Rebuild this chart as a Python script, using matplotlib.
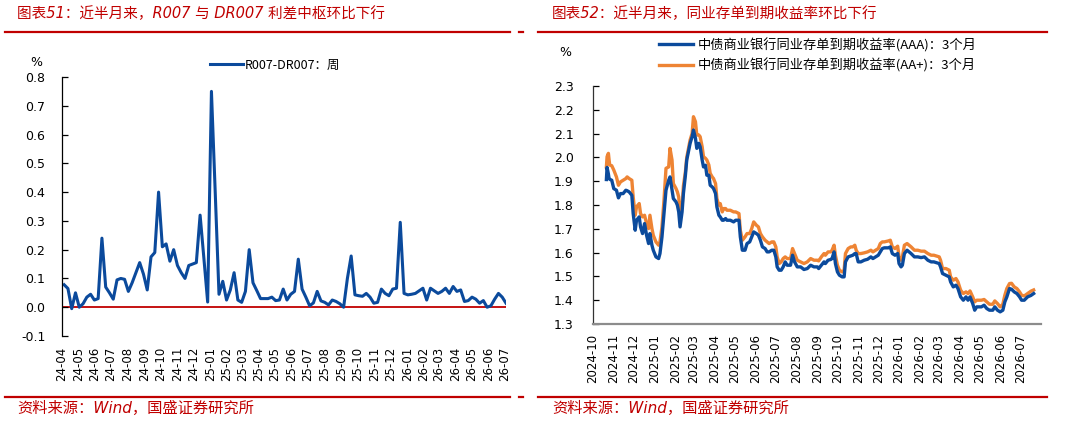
import matplotlib
matplotlib.use("Agg")
import matplotlib.pyplot as plt
from matplotlib.lines import Line2D
from matplotlib.font_manager import FontProperties
import pandas as pd

# ---------------- data ----------------
title_left = "图表51：近半月来，R007 与 DR007 利差中枢环比下行"
title_right = "图表52：近半月来，同业存单到期收益率环比下行"
source_text = "资料来源：Wind，国盛证券研究所"
legend_left = "R007-DR007：周"
legend_aaa = "中债商业银行同业存单到期收益率(AAA)：3个月"
legend_aap = "中债商业银行同业存单到期收益率(AA+)：3个月"

spread_start = "2024-04-05"   # weekly observations (Fridays)
spread = [0.078, 0.065, -0.005, 0.05, 0.0, 0.012, 0.035, 0.045, 0.025, 0.03,
          0.24, 0.07, 0.05, 0.028, 0.095, 0.10, 0.097, 0.055, 0.085, 0.12,
          0.155, 0.115, 0.06, 0.175, 0.19, 0.40, 0.21, 0.22, 0.16, 0.20,
          0.145, 0.12, 0.10, 0.145, 0.15, 0.155, 0.32, 0.17, 0.018, 0.75,
          0.40, 0.045, 0.09, 0.025, 0.06, 0.12, 0.025, 0.017, 0.055, 0.20,
          0.085, 0.058, 0.03, 0.03, 0.03, 0.035, 0.023, 0.025, 0.063, 0.025,
          0.045, 0.055, 0.167, 0.063, 0.035, 0.005, 0.015, 0.055, 0.022, 0.017,
          0.008, 0.025, 0.02, 0.012, 0.0, 0.10, 0.178, 0.043, 0.04, 0.038,
          0.048, 0.035, 0.014, 0.017, 0.063, 0.048, 0.04, 0.063, 0.066, 0.295,
          0.048, 0.043, 0.045, 0.048, 0.057, 0.066, 0.025, 0.066, 0.057, 0.048,
          0.055, 0.066, 0.048, 0.072, 0.055, 0.06, 0.02, 0.023, 0.035, 0.028,
          0.014, 0.023, 0.0, 0.005, 0.028, 0.048, 0.035, 0.014]
spread_ticks = pd.date_range("2024-04-01", "2026-07-01", freq="MS")

cd_dates = [
    "2024-10-21", "2024-10-22", "2024-10-24", "2024-10-25", "2024-10-26", "2024-10-29",
    "2024-11-01", "2024-11-05", "2024-11-08", "2024-11-11", "2024-11-15", "2024-11-19",
    "2024-11-21", "2024-11-24", "2024-11-28", "2024-11-30", "2024-12-03", "2024-12-05",
    "2024-12-09", "2024-12-11", "2024-12-14", "2024-12-17", "2024-12-20", "2024-12-23",
    "2024-12-25", "2024-12-28", "2024-12-30", "2025-01-03", "2025-01-07", "2025-01-09",
    "2025-01-12", "2025-01-15", "2025-01-18", "2025-01-22", "2025-01-24", "2025-01-27",
    "2025-01-29", "2025-02-02", "2025-02-04", "2025-02-06", "2025-02-08", "2025-02-11",
    "2025-02-13", "2025-02-16", "2025-02-18", "2025-02-21", "2025-02-23", "2025-02-26",
    "2025-02-28", "2025-03-03", "2025-03-05", "2025-03-08", "2025-03-10", "2025-03-13",
    "2025-03-15", "2025-03-18", "2025-03-20", "2025-03-23", "2025-03-25", "2025-03-28",
    "2025-03-30", "2025-04-02", "2025-04-04", "2025-04-07", "2025-04-09", "2025-04-12",
    "2025-04-14", "2025-04-17", "2025-04-19", "2025-04-24", "2025-04-29", "2025-05-02",
    "2025-05-07", "2025-05-09", "2025-05-12", "2025-05-16", "2025-05-19", "2025-05-23",
    "2025-05-26", "2025-05-29", "2025-06-02", "2025-06-05", "2025-06-08", "2025-06-11",
    "2025-06-15", "2025-06-18", "2025-06-21", "2025-06-25", "2025-06-28", "2025-07-01",
    "2025-07-03", "2025-07-06", "2025-07-09", "2025-07-12", "2025-07-15", "2025-07-18",
    "2025-07-20", "2025-07-23", "2025-07-26", "2025-07-29", "2025-08-02", "2025-08-07",
    "2025-08-12", "2025-08-17", "2025-08-22", "2025-08-27", "2025-09-01", "2025-09-03",
    "2025-09-07", "2025-09-11", "2025-09-13", "2025-09-17", "2025-09-21", "2025-09-23",
    "2025-09-26", "2025-09-28", "2025-10-01", "2025-10-04", "2025-10-08", "2025-10-11",
    "2025-10-13", "2025-10-17", "2025-10-21", "2025-10-24", "2025-10-27", "2025-10-29",
    "2025-11-01", "2025-11-05", "2025-11-10", "2025-11-15", "2025-11-20", "2025-11-23",
    "2025-11-27", "2025-12-01", "2025-12-04", "2025-12-07", "2025-12-10", "2025-12-16",
    "2025-12-19", "2025-12-22", "2025-12-26", "2025-12-30", "2026-01-01", "2026-01-04",
    "2026-01-06", "2026-01-09", "2026-01-13", "2026-01-16", "2026-01-19", "2026-01-24",
    "2026-01-29", "2026-02-03", "2026-02-08", "2026-02-13", "2026-02-18", "2026-02-22",
    "2026-03-02", "2026-03-04", "2026-03-07", "2026-03-12", "2026-03-17", "2026-03-19",
    "2026-03-23", "2026-03-27", "2026-03-30", "2026-04-03", "2026-04-07", "2026-04-11",
    "2026-04-14", "2026-04-17", "2026-04-21", "2026-04-24", "2026-04-27", "2026-05-01",
    "2026-05-04", "2026-05-08", "2026-05-12", "2026-05-16", "2026-05-21", "2026-05-24",
    "2026-05-28", "2026-06-01", "2026-06-05", "2026-06-08", "2026-06-11", "2026-06-15",
    "2026-06-18", "2026-06-22", "2026-06-26", "2026-06-30", "2026-07-03", "2026-07-07",
    "2026-07-12", "2026-07-17", "2026-07-21",
]
cd_aaa = [
    1.907, 1.958, 1.930, 1.911, 1.908, 1.904, 1.869, 1.862, 1.830, 1.848, 1.848, 1.862,
    1.860, 1.855, 1.841, 1.764, 1.694, 1.736, 1.750, 1.708, 1.680, 1.722, 1.673, 1.638,
    1.680, 1.631, 1.610, 1.582, 1.575, 1.596, 1.666, 1.764, 1.862, 1.904, 1.918, 1.862,
    1.827, 1.813, 1.799, 1.771, 1.708, 1.771, 1.848, 1.925, 1.989, 2.031, 2.059, 2.087,
    2.115, 2.080, 2.038, 2.059, 2.045, 1.989, 1.960, 1.967, 1.925, 1.925, 1.883, 1.876,
    1.869, 1.848, 1.792, 1.757, 1.750, 1.736, 1.736, 1.743, 1.736, 1.736, 1.729, 1.736,
    1.736, 1.666, 1.610, 1.610, 1.638, 1.645, 1.666, 1.687, 1.680, 1.673, 1.652, 1.624,
    1.617, 1.603, 1.603, 1.610, 1.610, 1.582, 1.540, 1.526, 1.526, 1.540, 1.561, 1.547,
    1.547, 1.547, 1.589, 1.561, 1.540, 1.540, 1.529, 1.533, 1.547, 1.540, 1.540, 1.533,
    1.547, 1.561, 1.554, 1.568, 1.571, 1.575, 1.603, 1.554, 1.519, 1.505, 1.498, 1.498,
    1.561, 1.582, 1.586, 1.589, 1.596, 1.596, 1.561, 1.561, 1.568, 1.572, 1.582, 1.575,
    1.582, 1.589, 1.603, 1.617, 1.620, 1.620, 1.624, 1.596, 1.589, 1.596, 1.554, 1.540,
    1.547, 1.596, 1.610, 1.603, 1.596, 1.582, 1.582, 1.579, 1.582, 1.568, 1.561, 1.561,
    1.554, 1.540, 1.512, 1.505, 1.498, 1.477, 1.456, 1.463, 1.449, 1.414, 1.400, 1.414,
    1.400, 1.414, 1.386, 1.358, 1.372, 1.372, 1.372, 1.379, 1.365, 1.358, 1.358, 1.372,
    1.358, 1.351, 1.358, 1.393, 1.414, 1.449, 1.446, 1.435, 1.428, 1.414, 1.400, 1.400,
    1.414, 1.420, 1.428,
]
cd_aap = [
    1.960, 2.003, 2.017, 1.990, 1.968, 1.965, 1.947, 1.918, 1.883, 1.897, 1.904, 1.911,
    1.918, 1.911, 1.904, 1.834, 1.757, 1.792, 1.806, 1.764, 1.750, 1.757, 1.722, 1.701,
    1.757, 1.701, 1.673, 1.645, 1.631, 1.645, 1.708, 1.820, 1.954, 1.960, 2.038, 1.989,
    1.890, 1.869, 1.855, 1.834, 1.764, 1.790, 1.880, 1.940, 2.000, 2.045, 2.073, 2.101,
    2.171, 2.150, 2.094, 2.094, 2.087, 2.045, 2.003, 1.996, 1.989, 1.968, 1.933, 1.918,
    1.911, 1.890, 1.827, 1.799, 1.806, 1.771, 1.785, 1.785, 1.778, 1.778, 1.771, 1.771,
    1.764, 1.694, 1.652, 1.666, 1.680, 1.680, 1.701, 1.729, 1.715, 1.708, 1.680, 1.666,
    1.652, 1.645, 1.638, 1.645, 1.645, 1.624, 1.582, 1.554, 1.561, 1.575, 1.582, 1.575,
    1.575, 1.575, 1.617, 1.596, 1.568, 1.561, 1.554, 1.561, 1.575, 1.568, 1.568, 1.565,
    1.582, 1.596, 1.589, 1.603, 1.603, 1.610, 1.631, 1.589, 1.547, 1.526, 1.519, 1.526,
    1.596, 1.617, 1.624, 1.624, 1.631, 1.610, 1.596, 1.596, 1.599, 1.603, 1.610, 1.603,
    1.610, 1.617, 1.638, 1.645, 1.645, 1.649, 1.652, 1.624, 1.617, 1.627, 1.582, 1.568,
    1.582, 1.631, 1.638, 1.631, 1.624, 1.610, 1.610, 1.606, 1.606, 1.596, 1.589, 1.589,
    1.582, 1.568, 1.533, 1.533, 1.526, 1.498, 1.484, 1.491, 1.477, 1.442, 1.428, 1.435,
    1.428, 1.439, 1.414, 1.393, 1.400, 1.400, 1.400, 1.403, 1.393, 1.383, 1.383, 1.397,
    1.386, 1.372, 1.383, 1.421, 1.449, 1.470, 1.471, 1.456, 1.449, 1.435, 1.421, 1.418,
    1.428, 1.438, 1.443,
]
cd_ticks = pd.date_range("2024-10-01", "2026-07-01", freq="MS")

# ---------------- style ----------------
W, H = 1065, 421
RED = "#C00000"
BLUE = "#0B4A9C"
ORANGE = "#EE8434"
CJK = ["Noto Sans CJK SC", "DejaVu Sans"]
TITLE_FONT = ["DejaVu Sans", "Noto Sans CJK SC"]

plt.rcParams["font.family"] = ["DejaVu Sans", "Noto Sans CJK SC"]

fig = plt.figure(figsize=(W / 100, H / 100), dpi=100)
fig.patch.set_facecolor("white")


def fx(px):
    return px / W


def fy(py):
    return 1 - py / H


# titles, rules and sources
for x0, x1, tx, title in [(5, 510, 17, title_left), (538, 1047, 552, title_right)]:
    fig.text(fx(tx), fy(14), title, color=RED, fontsize=10.5, family=TITLE_FONT,
             style="italic", ha="left", va="center")
    fig.text(fx(tx), fy(408), source_text, color=RED, fontsize=11, family=TITLE_FONT,
             style="italic", ha="left", va="center")
    for yy in (32, 397):
        fig.add_artist(Line2D([fx(x0), fx(x1)], [fy(yy), fy(yy)], color=RED, lw=1.6))
fig.add_artist(Line2D([fx(519), fx(523)], [fy(32), fy(32)], color=RED, lw=1.6))
fig.add_artist(Line2D([fx(519), fx(523)], [fy(397), fy(397)], color=RED, lw=1.6))

# ---------------- left chart ----------------
ax1 = fig.add_axes([fx(62), fy(336), fx(506) - fx(62), fy(77) - fy(336)])
dates_l = pd.date_range(spread_start, periods=len(spread), freq="7D")
ax1.plot(dates_l, spread, color=BLUE, lw=2.2, label=legend_left, solid_joinstyle="round")
ax1.axhline(0, color=RED, lw=1.3, zorder=1)
ax1.set_ylim(-0.1, 0.8)
ax1.set_yticks([i / 10 for i in range(-1, 9)])
ax1.yaxis.set_major_formatter(matplotlib.ticker.FormatStrFormatter("%.1f"))
ax1.set_xlim(pd.Timestamp("2024-04-01"), pd.Timestamp("2026-07-03"))
ax1.set_xticks(spread_ticks)
ax1.set_xticklabels([d.strftime("%y-%m") for d in spread_ticks], rotation=90)
for s in ("top", "right", "bottom"):
    ax1.spines[s].set_visible(False)
ax1.spines["left"].set_color("black")
ax1.spines["left"].set_linewidth(0.9)
ax1.tick_params(axis="y", direction="in", length=4, width=0.9, labelsize=9, pad=12)
ax1.tick_params(axis="x", length=0, labelsize=8.5, pad=8)
fig.text(fx(36), fy(62), "%", fontsize=9, ha="center", va="center")
ax1.legend(loc="center left", bbox_to_anchor=(fx(210), fy(65)), bbox_transform=fig.transFigure,
           frameon=False, prop=FontProperties(family=CJK, size=9), handlelength=2.6,
           handletextpad=0.2, borderpad=0, borderaxespad=0)

# ---------------- right chart ----------------
ax2 = fig.add_axes([fx(593), fy(324), fx(1041) - fx(593), fy(86) - fy(324)])
dts = pd.to_datetime(cd_dates)
ax2.plot(dts, cd_aaa, color=BLUE, lw=2.4, label=legend_aaa, zorder=3)
ax2.plot(dts, cd_aap, color=ORANGE, lw=2.4, label=legend_aap, zorder=2)
ax2.set_ylim(1.3, 2.3)
ax2.set_yticks([1.3 + i / 10 for i in range(11)])
ax2.yaxis.set_major_formatter(matplotlib.ticker.FormatStrFormatter("%.1f"))
ax2.set_xlim(pd.Timestamp("2024-10-01"), pd.Timestamp("2026-08-01"))
ax2.set_xticks(cd_ticks)
ax2.set_xticklabels([d.strftime("%Y-%m") for d in cd_ticks], rotation=90)
for s in ("top", "right"):
    ax2.spines[s].set_visible(False)
ax2.spines["left"].set_color("#333333")
ax2.spines["left"].set_linewidth(0.9)
ax2.spines["bottom"].set_color("#8C8C8C")
ax2.spines["bottom"].set_linewidth(1.6)
ax2.tick_params(axis="y", direction="in", length=4, width=0.9, labelsize=9, pad=14)
ax2.tick_params(axis="x", length=0, labelsize=8.5, pad=7)
fig.text(fx(565), fy(52), "%", fontsize=9, ha="center", va="center")
ax2.legend(loc="center left", bbox_to_anchor=(fx(659), fy(55)), bbox_transform=fig.transFigure,
           frameon=False, prop=FontProperties(family=CJK, size=9.5), handlelength=2.6,
           handletextpad=0.3, borderpad=0, borderaxespad=0, labelspacing=0.45)

fig.savefig("out.png", dpi=100, facecolor="white")
